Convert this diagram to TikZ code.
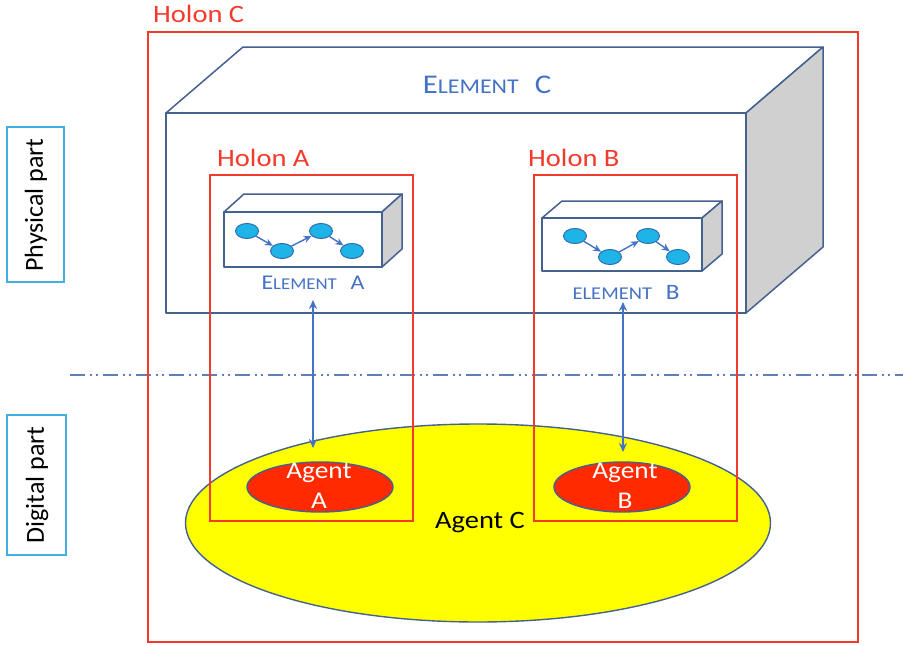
\documentclass[tikz,border=0pt]{standalone}
\usepackage{fontspec}
\setmainfont{Carlito}
\usetikzlibrary{arrows.meta,shapes.geometric}

\definecolor{holonred}{HTML}{F23B2C}
\definecolor{boxblue}{HTML}{44618F}
\definecolor{txtblue}{HTML}{4472C4}
\definecolor{dotcyan}{HTML}{1FB4E8}
\definecolor{dotedge}{HTML}{2E6DB0}
\definecolor{facegray}{HTML}{D0D0D0}
\definecolor{partblue}{HTML}{3FB0E0}
\definecolor{agentyellow}{HTML}{FFFF00}
\definecolor{agentred}{HTML}{FF2A00}
\definecolor{splitblue}{HTML}{5E7FB8}

% slightly widened lettering
\newcommand{\wide}[1]{\scalebox{1.14}[1]{#1}}
\newcommand{\fs}[1]{\fontsize{#1}{#1}\selectfont}

\tikzset{
  x=1pt, y=-1pt,
  holon/.style={draw=holonred, line width=1.9pt},
  holonlabel/.style={text=holonred, font=\fs{25}, inner sep=0pt},
  face/.style={draw=boxblue, line width=1.5pt, fill=white, line join=round},
  sideface/.style={draw=boxblue, line width=1.5pt, fill=facegray, line join=round},
  elemlabel/.style={text=txtblue, inner sep=0pt},
  dot/.style={ellipse, draw=dotedge, fill=dotcyan, line width=1pt, minimum width=23pt, minimum height=15pt, inner sep=0pt},
  chain/.style={draw=txtblue, line width=1.4pt, -{Stealth[length=8pt,width=7pt]}},
  link/.style={draw=txtblue, line width=1.5pt, {Stealth[length=9pt,width=8pt]}-{Stealth[length=9pt,width=8pt]}},
  partbox/.style={draw=partblue, line width=1.6pt, fill=white},
  partlabel/.style={rotate=90, font=\fs{26}, inner sep=0pt},
  agent/.style={ellipse, draw=boxblue, line width=1.4pt, fill=agentred, inner sep=0pt},
  agentlabel/.style={text=white, font=\fontsize{24}{30}\selectfont, align=center, inner sep=0pt}
}

\begin{document}
\begin{tikzpicture}
\useasboundingbox (0,0) rectangle (903,645);

% split between physical and digital parts
\draw[splitblue, line width=1.5pt, dash pattern=on 15pt off 5pt on 2pt off 4pt on 2pt off 5pt] (70,375) -- (903,375);

% outer holon
\draw[holon] (148,32) rectangle (858,642);
\node[holonlabel, anchor=base west] (holonC) at (153,22) {\wide{Holon C}};

% element C block
\draw[face] (166,113) -- (243,47) -- (823,47) -- (746,113) -- cycle;
\draw[sideface] (746,113) -- (823,47) -- (823,247) -- (746,313) -- cycle;
\draw[face] (166,113) rectangle (746,313);
\node[elemlabel, anchor=base] (elemC) at (487,93)
  {\wide{{\fs{27}E}{\fs{21}LEMENT}\hspace{14pt}{\fs{27}C}}};

% digital agent C
\node[ellipse, draw=boxblue, line width=1.4pt, fill=agentyellow, minimum width=585pt, minimum height=198pt, inner sep=0pt] (agentC) at (478,523) {};
\node[font=\fs{25}, inner sep=0pt] (agentCtxt) at (480,523) {\wide{Agent C}};

% holon A and B frames
\draw[holon] (210,175) rectangle (413,521);
\node[holonlabel, anchor=base west] (holonA) at (217,166) {\wide{Holon A}};
\draw[holon] (534,175) rectangle (737,521);
\node[holonlabel, anchor=base west] (holonB) at (528,166) {\wide{Holon B}};

% element A block
\draw[face] (224,212) -- (244,194) -- (402,194) -- (382,212) -- cycle;
\draw[sideface] (382,212) -- (402,194) -- (402,249) -- (382,267) -- cycle;
\draw[face] (224,212) rectangle (382,267);
\node[dot] (a1) at (247,231) {};
\node[dot] (a2) at (282,251) {};
\node[dot] (a3) at (321,231) {};
\node[dot] (a4) at (352,251) {};
\draw[chain] (a1) -- (a2);
\draw[chain] (a2) -- (a3);
\draw[chain] (a3) -- (a4);
\node[elemlabel, anchor=base] (elemA) at (313,289)
  {\wide{{\fs{21}E}{\fs{16.5}LEMENT}\hspace{12pt}{\fs{21}A}}};

% element B block
\draw[face] (542,218) -- (562,201) -- (722,201) -- (702,218) -- cycle;
\draw[sideface] (702,218) -- (722,201) -- (722,254) -- (702,271) -- cycle;
\draw[face] (542,218) rectangle (702,271);
\node[dot] (b1) at (575,236) {};
\node[dot] (b2) at (610,257) {};
\node[dot] (b3) at (648,236) {};
\node[dot] (b4) at (678,257) {};
\draw[chain] (b1) -- (b2);
\draw[chain] (b2) -- (b3);
\draw[chain] (b3) -- (b4);
\node[elemlabel, anchor=base] (elemB) at (626,299)
  {\wide{{\fs{18}ELEMENT}\hspace{12pt}{\fs{22}B}}};

% agents A and B
\node[agent, minimum width=146pt, minimum height=50pt] (agentA) at (320,487) {};
\node[agentlabel] (agentAtxt) at (319,486) {\wide{Agent}\\\wide{A}};
\node[agent, minimum width=136pt, minimum height=50pt] (agentB) at (622,487) {};
\node[agentlabel] (agentBtxt) at (625,486) {\wide{Agent}\\\wide{B}};

% physical-digital links
\coordinate (topA) at (313,300);
\coordinate (botA) at (313,448);
\coordinate (topB) at (623,302);
\coordinate (botB) at (623,452);
\draw[link] (topA) -- (botA);
\draw[link] (topB) -- (botB);

% side labels
\draw[partbox] (7,127) rectangle (64,282);
\node[partlabel] (phys) at (36,205) {Physical part};
\draw[partbox] (7,415) rectangle (66,555);
\node[partlabel] (digi) at (37,485) {Digital part};
\end{tikzpicture}
\end{document}
